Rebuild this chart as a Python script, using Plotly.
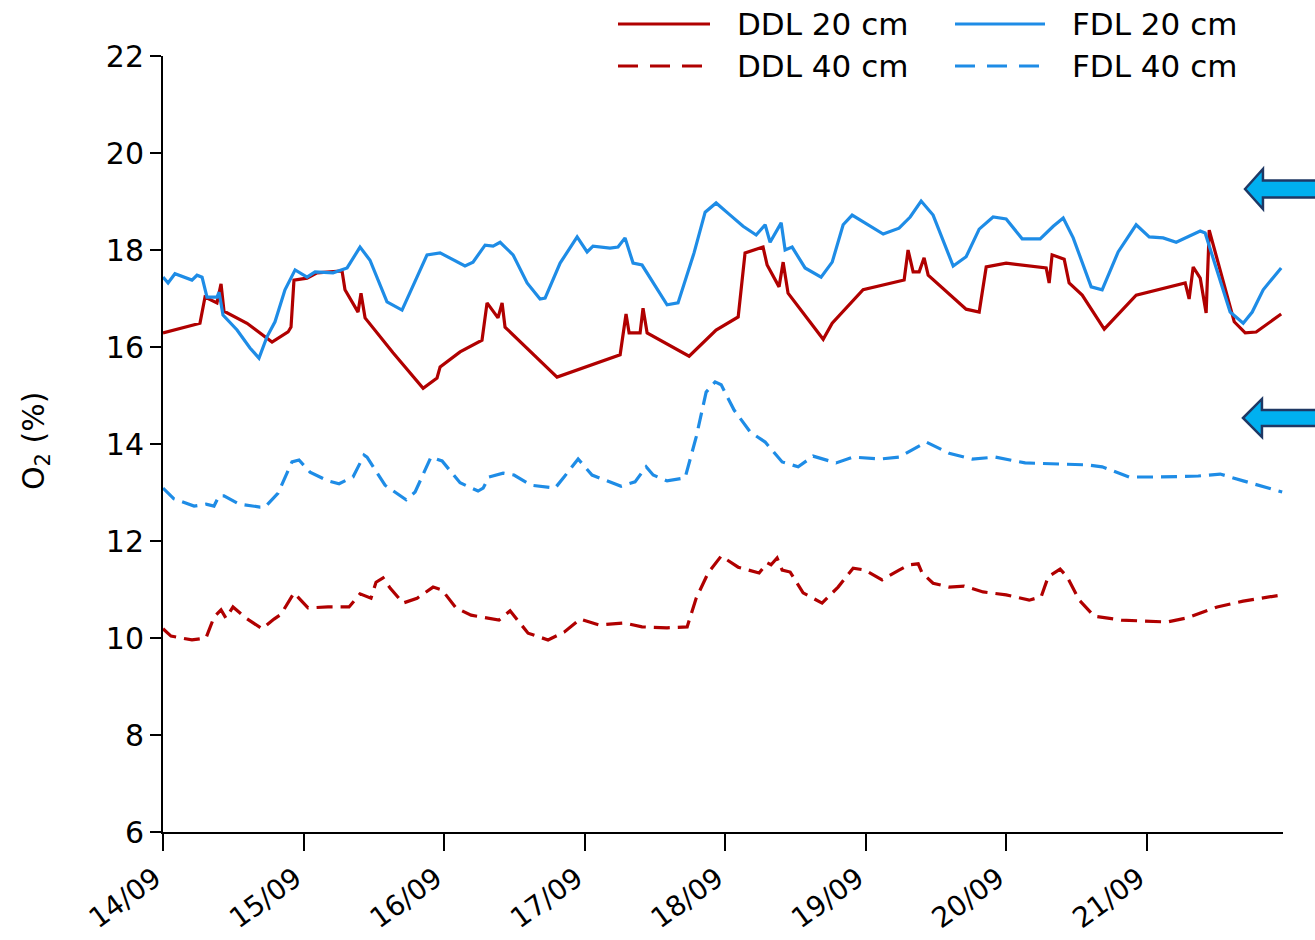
import plotly.graph_objects as go

# ---------------- data (days since 14/09 00:00, O2 %) ----------------
tick_days = [0, 1, 2, 3, 4, 5, 6, 7]
tick_labels = ["14/09", "15/09", "16/09", "17/09", "18/09", "19/09", "20/09", "21/09"]

ddl20_t = [0.000, 0.263, 0.299, 0.384, 0.413, 0.434, 0.598, 0.776, 0.890, 0.911, 0.932, 1.025,
           1.096, 1.274, 1.295, 1.388, 1.409, 1.438, 1.637, 1.851, 1.950, 1.972, 2.114, 2.270,
           2.306, 2.384, 2.413, 2.434, 2.804, 3.110, 3.253, 3.295, 3.317, 3.395, 3.416, 3.445,
           3.744, 3.936, 4.093, 4.142, 4.270, 4.299, 4.384, 4.413, 4.448, 4.698, 4.762, 4.982,
           5.274, 5.302, 5.338, 5.381, 5.416, 5.445, 5.715, 5.808, 5.858, 6.000, 6.285, 6.306,
           6.327, 6.413, 6.448, 6.541, 6.698, 6.925, 7.274, 7.302, 7.331, 7.381, 7.423, 7.445,
           7.623, 7.701, 7.779, 7.957]
ddl20_v = [16.29, 16.49, 17.03, 16.91, 17.30, 16.74, 16.49, 16.10, 16.31, 16.41, 17.38, 17.42,
           17.53, 17.57, 17.18, 16.72, 17.11, 16.60, 15.88, 15.15, 15.36, 15.59, 15.90, 16.14,
           16.91, 16.60, 16.91, 16.41, 15.38, 15.69, 15.84, 16.68, 16.29, 16.29, 16.80, 16.29,
           15.81, 16.35, 16.62, 17.94, 18.06, 17.69, 17.24, 17.75, 17.11, 16.16, 16.49, 17.18,
           17.38, 18.00, 17.55, 17.55, 17.84, 17.48, 16.78, 16.72, 17.65, 17.73, 17.63, 17.32,
           17.90, 17.81, 17.32, 17.07, 16.37, 17.07, 17.32, 16.99, 17.65, 17.42, 16.70, 18.41,
           16.52, 16.29, 16.31, 16.68]

fdl20_t = [0.000, 0.036, 0.085, 0.206, 0.242, 0.278, 0.313, 0.384, 0.399, 0.427, 0.527, 0.619,
           0.683, 0.740, 0.797, 0.868, 0.940, 1.025, 1.082, 1.210, 1.310, 1.402, 1.473, 1.594,
           1.701, 1.744, 1.879, 1.972, 2.149, 2.206, 2.292, 2.349, 2.399, 2.491, 2.591, 2.683,
           2.719, 2.826, 2.947, 3.018, 3.060, 3.181, 3.238, 3.288, 3.345, 3.409, 3.587, 3.665,
           3.779, 3.858, 3.936, 4.028, 4.128, 4.221, 4.285, 4.320, 4.399, 4.427, 4.477, 4.569,
           4.683, 4.762, 4.840, 4.904, 5.018, 5.125, 5.238, 5.317, 5.395, 5.480, 5.623, 5.715,
           5.808, 5.907, 6.000, 6.114, 6.242, 6.335, 6.406, 6.477, 6.605, 6.683, 6.797, 6.925,
           7.018, 7.117, 7.210, 7.381, 7.416, 7.544, 7.594, 7.687, 7.751, 7.829, 7.957]
fdl20_v = [17.44, 17.32, 17.51, 17.38, 17.48, 17.44, 17.03, 17.03, 17.13, 16.66, 16.35, 15.98,
           15.77, 16.21, 16.52, 17.18, 17.59, 17.44, 17.55, 17.53, 17.63, 18.06, 17.79, 16.93,
           16.76, 17.03, 17.90, 17.94, 17.67, 17.75, 18.10, 18.08, 18.16, 17.90, 17.32, 16.99,
           17.01, 17.73, 18.27, 17.96, 18.08, 18.04, 18.06, 18.25, 17.73, 17.69, 16.87, 16.91,
           17.94, 18.78, 18.97, 18.74, 18.49, 18.31, 18.52, 18.16, 18.56, 18.00, 18.06, 17.63,
           17.44, 17.75, 18.52, 18.72, 18.52, 18.33, 18.45, 18.68, 19.01, 18.72, 17.67, 17.86,
           18.43, 18.68, 18.64, 18.23, 18.23, 18.49, 18.66, 18.25, 17.24, 17.18, 17.96, 18.52,
           18.27, 18.25, 18.16, 18.39, 18.35, 17.18, 16.72, 16.49, 16.72, 17.18, 17.63]

ddl40_t = [0.000, 0.057, 0.206, 0.306, 0.363, 0.413, 0.448, 0.498, 0.591, 0.705, 0.790, 0.840,
           0.932, 1.032, 1.174, 1.324, 1.402, 1.480, 1.516, 1.566, 1.616, 1.708, 1.808, 1.922,
           1.986, 2.085, 2.192, 2.391, 2.470, 2.598, 2.740, 2.854, 2.968, 3.103, 3.281, 3.409,
           3.587, 3.730, 3.794, 3.879, 3.972, 4.093, 4.242, 4.299, 4.327, 4.370, 4.406, 4.463,
           4.555, 4.690, 4.804, 4.911, 4.996, 5.117, 5.238, 5.310, 5.374, 5.402, 5.480, 5.594,
           5.701, 5.836, 6.000, 6.164, 6.249, 6.299, 6.384, 6.434, 6.520, 6.626, 6.819, 7.146,
           7.281, 7.502, 7.687, 7.964]
ddl40_v = [10.19, 10.04, 9.96, 10.00, 10.43, 10.58, 10.41, 10.64, 10.41, 10.19, 10.39, 10.49,
           10.93, 10.62, 10.64, 10.64, 10.91, 10.82, 11.15, 11.24, 11.03, 10.72, 10.82, 11.05,
           10.99, 10.62, 10.47, 10.37, 10.56, 10.10, 9.96, 10.12, 10.39, 10.27, 10.31, 10.23,
           10.21, 10.23, 10.82, 11.34, 11.69, 11.46, 11.34, 11.55, 11.51, 11.65, 11.40, 11.36,
           10.93, 10.72, 11.05, 11.44, 11.40, 11.20, 11.40, 11.51, 11.53, 11.34, 11.13, 11.05,
           11.07, 10.95, 10.89, 10.78, 10.85, 11.26, 11.42, 11.26, 10.78, 10.45, 10.37, 10.33,
           10.41, 10.64, 10.76, 10.89]

fdl40_t = [0.000, 0.078, 0.221, 0.306, 0.363, 0.399, 0.434, 0.541, 0.690, 0.726, 0.819, 0.918,
           0.968, 1.046, 1.174, 1.253, 1.352, 1.431, 1.452, 1.580, 1.730, 1.794, 1.907, 1.986,
           2.114, 2.242, 2.278, 2.320, 2.420, 2.498, 2.619, 2.726, 2.790, 2.854, 2.954, 3.053,
           3.260, 3.359, 3.438, 3.488, 3.587, 3.715, 3.794, 3.865, 3.929, 3.972, 4.064, 4.178,
           4.285, 4.406, 4.520, 4.626, 4.790, 4.911, 5.103, 5.238, 5.431, 5.594, 5.758, 5.922,
           6.135, 6.577, 6.683, 6.875, 7.089, 7.367, 7.523, 7.687, 7.964]
fdl40_v = [13.09, 12.87, 12.72, 12.76, 12.72, 12.93, 12.93, 12.76, 12.70, 12.70, 12.99, 13.63,
           13.67, 13.42, 13.24, 13.18, 13.32, 13.77, 13.73, 13.15, 12.85, 13.01, 13.73, 13.65,
           13.20, 13.03, 13.09, 13.32, 13.40, 13.36, 13.15, 13.11, 13.09, 13.32, 13.69, 13.36,
           13.13, 13.22, 13.53, 13.36, 13.24, 13.30, 14.14, 15.07, 15.28, 15.22, 14.70, 14.25,
           14.04, 13.63, 13.53, 13.75, 13.61, 13.73, 13.69, 13.73, 14.04, 13.81, 13.69, 13.73,
           13.61, 13.57, 13.53, 13.32, 13.32, 13.34, 13.38, 13.24, 13.01]

series_names = ["DDL 20 cm", "FDL 20 cm", "DDL 40 cm", "FDL 40 cm"]

# ---------------- style ----------------
RED = "#B00000"
BLUE = "#1E8CE6"
FONT = "DejaVu Sans"
DASH = "16px,8px"

fig = go.Figure()
specs = [
    (ddl20_t, ddl20_v, series_names[0], RED, "solid"),
    (fdl20_t, fdl20_v, series_names[1], BLUE, "solid"),
    (ddl40_t, ddl40_v, series_names[2], RED, DASH),
    (fdl40_t, fdl40_v, series_names[3], BLUE, DASH),
]
for t, v, name, col, dash in specs:
    fig.add_trace(go.Scatter(x=t, y=v, name=name, mode="lines",
                             line=dict(color=col, width=3.2, dash=dash),
                             showlegend=False))

# plot-area pixel geometry
W, H = 1315, 940
L, R, T, B = 163, 32, 56, 108
pw, ph = W - L - R, H - T - B


def px(xp):
    return (xp - L) / pw


def py(yp):
    return (H - B - yp) / ph


shapes = []
annotations = []

# manual legend (2 columns x 2 rows)
leg = [
    (series_names[0], RED, "solid", 618, 710, 735, 24),
    (series_names[1], BLUE, "solid", 955, 1045, 1070, 24),
    (series_names[2], RED, "20px,12px", 618, 710, 735, 66),
    (series_names[3], BLUE, "20px,12px", 955, 1045, 1070, 66),
]
for name, col, dash, x0, x1, xt, yy in leg:
    shapes.append(dict(type="line", xref="paper", yref="paper",
                       x0=px(x0), x1=px(x1), y0=py(yy), y1=py(yy),
                       line=dict(color=col, width=3, dash=dash)))
    annotations.append(dict(text=name, xref="paper", yref="paper", x=px(xt), y=py(yy),
                            xanchor="left", yanchor="middle", showarrow=False,
                            font=dict(family=FONT, size=31, color="black")))

# block arrows at right edge
def block_arrow(tip_x, tip_y, head_x, head_half, shaft_half, end_x):
    pts = [(tip_x, tip_y), (head_x, tip_y - head_half), (head_x, tip_y - shaft_half),
           (end_x, tip_y - shaft_half), (end_x, tip_y + shaft_half),
           (head_x, tip_y + shaft_half), (head_x, tip_y + head_half)]
    d = "M " + " L ".join(f"{px(a):.4f},{py(b):.4f}" for a, b in pts) + " Z"
    return dict(type="path", xref="paper", yref="paper", path=d,
                fillcolor="#00B0F0", line=dict(color="#1F3864", width=2.5))

shapes.append(block_arrow(1245, 189, 1263, 20, 8.5, 1325))
shapes.append(block_arrow(1243, 418, 1262, 19, 8, 1325))

# y-axis title
annotations.append(dict(text="O<sub>2</sub> (%)", xref="paper", yref="paper",
                        x=px(35), y=py(441), xanchor="center", yanchor="middle",
                        textangle=-90, showarrow=False,
                        font=dict(family=FONT, size=30, color="black")))

fig.update_layout(
    width=W, height=H,
    margin=dict(l=L, r=R, t=T, b=B, pad=0, autoexpand=False),
    paper_bgcolor="white", plot_bgcolor="white",
    font=dict(family=FONT, color="black"),
    shapes=shapes, annotations=annotations,
    showlegend=False,
)
fig.update_xaxes(range=[0, 7.97], tickvals=tick_days, ticktext=tick_labels, automargin=False,
                 showgrid=False, zeroline=False, showline=True, linecolor="black", linewidth=2,
                 ticks="outside", ticklen=17, tickwidth=2, tickcolor="black",
                 ticklabelshift=-8,
                 tickangle=-36, tickfont=dict(family=FONT, size=28, color="black"))
fig.update_yaxes(range=[6, 22], tickvals=[6, 8, 10, 12, 14, 16, 18, 20, 22], automargin=False,
                 showgrid=False, zeroline=False, showline=True, linecolor="black", linewidth=2,
                 ticks="outside", ticklen=11, tickwidth=2, tickcolor="black",
                 tickfont=dict(family=FONT, size=30, color="black"))

fig.write_html("out.html")
